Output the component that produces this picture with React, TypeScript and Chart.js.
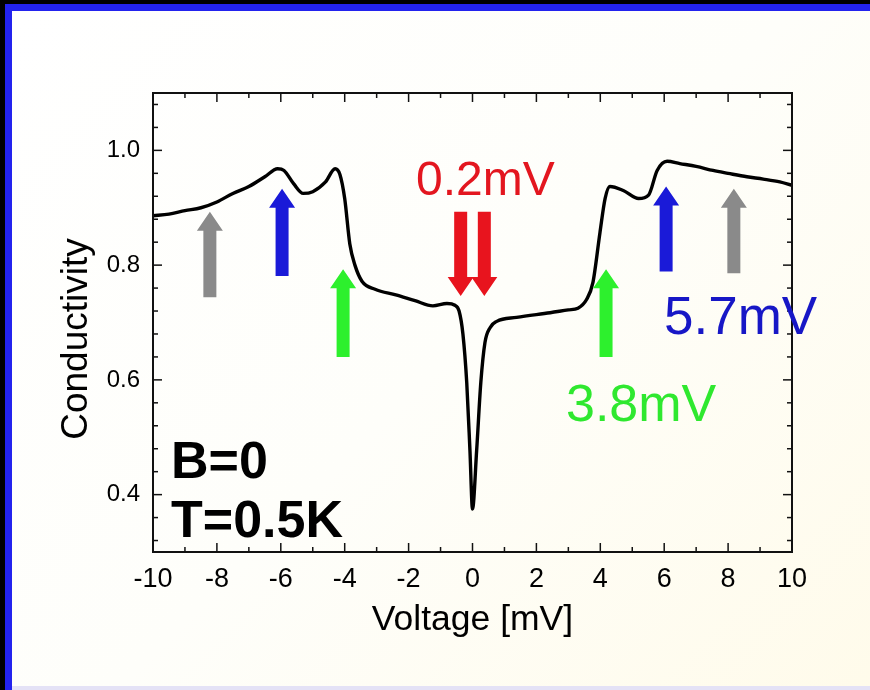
import React, { useEffect, useRef } from "react";
import { Chart, registerables } from "chart.js";

Chart.register(...registerables);

// ---- data ----
const voltage = [
  -10, -9.5, -9, -8.5, -8, -7.5, -7, -6.5, -6.1, -5.9, -5.6, -5.3, -5.0, -4.6, -4.3, -4.15,
  -4.0, -3.84, -3.68, -3.46, -3.05, -2.4, -1.8, -1.24, -0.8, -0.55, -0.42, -0.3, -0.18, -0.08,
  0.0, 0.13, 0.26, 0.39, 0.55, 0.76, 1.38, 2.43, 3.0, 3.3, 3.57, 3.77, 3.99, 4.15, 4.3, 4.72,
  5.2, 5.51, 5.78, 6.09, 6.49, 7.0, 7.53, 8.0, 8.59, 9.1, 9.62, 10,
];
const conductivity = [
  0.886, 0.889, 0.895, 0.9, 0.91, 0.925, 0.937, 0.954, 0.968, 0.965, 0.942, 0.925, 0.928, 0.945, 0.968, 0.958,
  0.916, 0.837, 0.8, 0.772, 0.758, 0.748, 0.738, 0.729, 0.733, 0.73, 0.72, 0.68, 0.595, 0.477,
  0.375, 0.477, 0.595, 0.665, 0.691, 0.702, 0.709, 0.717, 0.722, 0.725, 0.74, 0.77, 0.857, 0.916, 0.937, 0.93,
  0.916, 0.922, 0.965, 0.981, 0.977, 0.972, 0.965, 0.96, 0.954, 0.95, 0.945, 0.939,
];

const xMajorTicks = [-10, -8, -6, -4, -2, 0, 2, 4, 6, 8, 10];
const xMinorTicks = [-9, -7, -5, -3, -1, 1, 3, 5, 7, 9];
const yMajorTicks = [0.4, 0.6, 0.8, 1.0];
const yMinorTicks = [0.32, 0.36, 0.44, 0.48, 0.52, 0.56, 0.64, 0.68, 0.72, 0.76, 0.84, 0.88, 0.92, 0.96, 1.04, 1.08];

// arrows: x position (mV), tail and tip (conductivity)
const arrowX = [-8.22, -5.96, -4.05, -0.37, 0.37, 4.18, 6.06, 8.18];
const arrowTail = [0.744, 0.781, 0.64, 0.893, 0.893, 0.64, 0.789, 0.786];
const arrowTip = [0.893, 0.933, 0.793, 0.746, 0.746, 0.793, 0.937, 0.933];
const arrowColor = ["#8a8a8a", "#1a1ad8", "#2df02d", "#e8141e", "#e8141e", "#2df02d", "#1a1ad8", "#8a8a8a"];

const noteText = ["0.2mV", "5.7mV", "3.8mV"];
const noteColor = ["#e3161f", "#1717c6", "#2fe82f"];

const FONT = "'Liberation Sans', Arial, Helvetica, sans-serif";

const framePlugin = {
  id: "frame",
  afterDatasetsDraw(chart: any) {
    const { ctx, chartArea, scales } = chart;
    const { left, right, top, bottom } = chartArea;
    const xs = scales.x;
    const ys = scales.y;
    ctx.save();
    // frame
    ctx.strokeStyle = "#111";
    ctx.lineWidth = 2;
    ctx.strokeRect(left, top, right - left, bottom - top);
    // ticks
    ctx.lineWidth = 1.5;
    const tick = (x1: number, y1: number, x2: number, y2: number) => {
      ctx.beginPath();
      ctx.moveTo(x1, y1);
      ctx.lineTo(x2, y2);
      ctx.stroke();
    };
    const maj = 9, min = 5;
    xMajorTicks.forEach((v) => {
      const p = xs.getPixelForValue(v);
      tick(p, bottom, p, bottom - maj);
      tick(p, top, p, top + maj);
    });
    xMinorTicks.forEach((v) => {
      const p = xs.getPixelForValue(v);
      tick(p, bottom, p, bottom - min);
      tick(p, top, p, top + min);
    });
    yMajorTicks.forEach((v) => {
      const p = ys.getPixelForValue(v);
      tick(left, p, left + maj, p);
      tick(right, p, right - maj, p);
    });
    yMinorTicks.forEach((v) => {
      const p = ys.getPixelForValue(v);
      tick(left, p, left + min, p);
      tick(right, p, right - min, p);
    });

    // arrows
    arrowX.forEach((xv, i) => {
      const px = xs.getPixelForValue(xv);
      const pTail = ys.getPixelForValue(arrowTail[i]);
      const pTip = ys.getPixelForValue(arrowTip[i]);
      const dir = pTip < pTail ? -1 : 1;
      const sw = 6.5, hw = 13, hl = 19;
      const base = pTip - dir * hl;
      ctx.fillStyle = arrowColor[i];
      ctx.beginPath();
      ctx.moveTo(px - sw, pTail);
      ctx.lineTo(px - sw, base);
      ctx.lineTo(px - hw, base);
      ctx.lineTo(px, pTip);
      ctx.lineTo(px + hw, base);
      ctx.lineTo(px + sw, base);
      ctx.lineTo(px + sw, pTail);
      ctx.closePath();
      ctx.fill();
    });

    // annotations
    ctx.textBaseline = "alphabetic";
    ctx.textAlign = "left";
    ctx.font = `48px ${FONT}`;
    ctx.fillStyle = noteColor[0];
    ctx.fillText(noteText[0], 416, 195);
    ctx.font = `53px ${FONT}`;
    ctx.fillStyle = noteColor[1];
    ctx.fillText(noteText[1], 664, 334);
    ctx.font = `52px ${FONT}`;
    ctx.fillStyle = noteColor[2];
    ctx.fillText(noteText[2], 566, 421);

    ctx.fillStyle = "#000";
    ctx.font = `bold 52px ${FONT}`;
    ctx.fillText("B=0", 171, 478);
    ctx.fillText("T=0.5K", 171, 537);

    // y-axis title
    ctx.save();
    ctx.translate(77, 339);
    ctx.rotate(-Math.PI / 2);
    ctx.textAlign = "center";
    ctx.textBaseline = "middle";
    ctx.font = `37px ${FONT}`;
    ctx.fillStyle = "#000";
    ctx.fillText("Conductivity", 0, 0);
    ctx.restore();

    ctx.restore();
  },
};

export default function App() {
  const ref = useRef<HTMLCanvasElement | null>(null);

  useEffect(() => {
    const canvas = ref.current;
    if (!canvas) return;
    const chart = new Chart(canvas, {
      type: "line",
      data: {
        datasets: [
          {
            data: voltage.map((v, i) => ({ x: v, y: conductivity[i] })),
            borderColor: "#000",
            borderWidth: 3.4,
            pointRadius: 0,
            fill: false,
            cubicInterpolationMode: "monotone",
          },
        ],
      },
      options: {
        responsive: false,
        animation: false,
        devicePixelRatio: 1,
        layout: { padding: { top: 93, right: 78, left: 0, bottom: 0 } },
        plugins: { legend: { display: false }, tooltip: { enabled: false } },
        scales: {
          x: {
            type: "linear",
            min: -10,
            max: 10,
            grid: { display: false, drawTicks: false },
            border: { display: false },
            afterBuildTicks: (s: any) => {
              s.ticks = xMajorTicks.map((v) => ({ value: v }));
            },
            afterFit: (s: any) => {
              s.height = 138;
            },
            ticks: {
              color: "#000",
              padding: 11,
              maxRotation: 0,
              autoSkip: false,
              font: { family: FONT, size: 27 },
              callback: (v: any) => String(v),
            },
            title: {
              display: true,
              text: "Voltage [mV]",
              color: "#000",
              font: { family: FONT, size: 35.5 },
              padding: { bottom: 48, top: 0 },
            },
          },
          y: {
            type: "linear",
            min: 0.3,
            max: 1.1,
            grid: { display: false, drawTicks: false },
            border: { display: false },
            afterBuildTicks: (s: any) => {
              s.ticks = yMajorTicks.map((v) => ({ value: v }));
            },
            afterFit: (s: any) => {
              s.width = 153;
            },
            ticks: {
              color: "#000",
              padding: 13,
              autoSkip: false,
              font: { family: FONT, size: 24 },
              callback: (v: any) => Number(v).toFixed(1),
            },
            title: { display: false },
          },
        },
      },
      plugins: [framePlugin],
    } as any);
    return () => chart.destroy();
  }, []);

  return (
    <div
      style={{
        position: "fixed",
        left: 0,
        top: 0,
        width: 870,
        height: 690,
        background: "#000",
        overflow: "hidden",
      }}
    >
      <div
        style={{
          position: "absolute",
          left: 5,
          top: 4,
          width: 880,
          height: 684,
          borderLeft: "7px solid #2323ee",
          borderTop: "7px solid #2323ee",
          background: "linear-gradient(135deg, #ffffff 0%, #fefefa 50%, #fffbea 100%)",
        }}
      />
      <div
        style={{
          position: "absolute",
          left: 12,
          top: 686,
          width: 860,
          height: 4,
          background: "#e4e2f6",
        }}
      />
      <canvas
        ref={ref}
        width={870}
        height={690}
        style={{ position: "absolute", left: 0, top: 0, width: 870, height: 690 }}
      />
    </div>
  );
}
